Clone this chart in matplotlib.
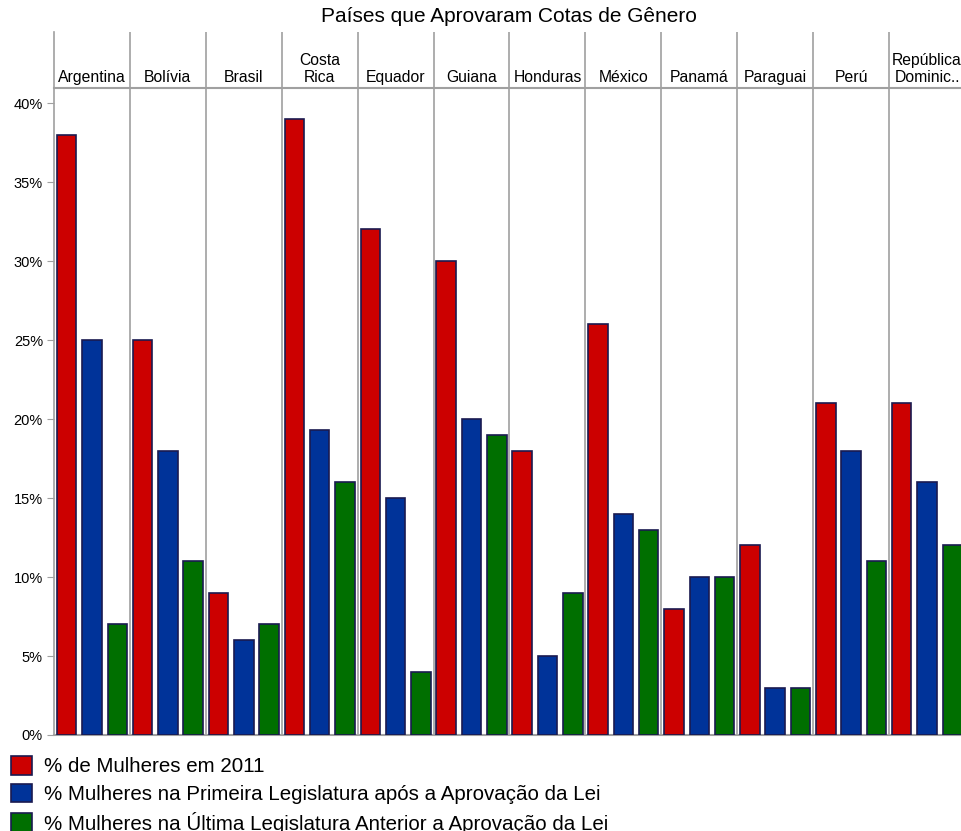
import matplotlib
matplotlib.use("Agg")
import matplotlib.pyplot as plt
import numpy as np

plt.rcParams['font.family'] = ['Liberation Sans', 'DejaVu Sans']

paises = ["Argentina", "Bolívia", "Brasil", "Costa\nRica", "Equador", "Guiana",
          "Honduras", "México", "Panamá", "Paraguai", "Perú", "República\nDominic.."]
mulheres_2011 = [38, 25, 9, 39, 32, 30, 18, 26, 8, 12, 21, 21]
primeira_leg = [25, 18, 6, 19.3, 15, 20, 5, 14, 10, 3, 18, 16]
ultima_leg = [7, 11, 7, 16, 4, 19, 9, 13, 10, 3, 11, 12]
series_nomes = ["% de Mulheres em 2011",
                "% Mulheres na Primeira Legislatura após a Aprovação da Lei",
                "% Mulheres na Última Legislatura Anterior a Aprovação da Lei"]
cores = ["#cc0000", "#003399", "#006f00"]
yticks = [0, 5, 10, 15, 20, 25, 30, 35, 40]

W, H = 962, 831
fig = plt.figure(figsize=(W / 100, H / 100), dpi=100)

left, right = 54, 965
top_hdr, top_plot, bottom = 32, 88, 735
ax = fig.add_axes([left / W, 1 - bottom / H, (right - left) / W, (bottom - top_plot) / H])
hdr = fig.add_axes([left / W, 1 - top_plot / H, (right - left) / W, (top_plot - top_hdr) / H])

n = len(paises)
base = np.arange(n) * 3
for j, (vals, cor, nome) in enumerate(zip([mulheres_2011, primeira_leg, ultima_leg], cores, series_nomes)):
    ax.bar(base + j, vals, width=0.77, color=cor, edgecolor="#1a1a50", linewidth=1.2,
           label=nome, zorder=3)

gray = "#a0a0a0"
for k in range(1, n):
    ax.axvline(k * 3 - 0.5, color=gray, lw=1.2, zorder=1)
    hdr.axvline(k * 3 - 0.5, color=gray, lw=1.2)

ax.set_xlim(-0.5, n * 3 - 0.5)
ax.set_ylim(0, 40.95)
ax.set_xticks([])
ax.set_yticks(yticks)
ax.set_yticklabels([f"{v}%" for v in yticks], fontsize=10.5)
ax.tick_params(axis='y', length=5, color=gray, pad=3)
for s in ["top", "right"]:
    ax.spines[s].set_visible(False)
ax.spines["left"].set_color(gray)
ax.spines["bottom"].set_color(gray)
ax.spines["left"].set_linewidth(1.2)
ax.spines["bottom"].set_linewidth(1.5)

hdr.set_xlim(-0.5, n * 3 - 0.5)
hdr.set_ylim(0, 1)
hdr.set_xticks([])
hdr.set_yticks([])
for s in ["top", "right"]:
    hdr.spines[s].set_visible(False)
hdr.spines["left"].set_color(gray)
hdr.spines["left"].set_linewidth(1.2)
hdr.spines["bottom"].set_color(gray)
hdr.spines["bottom"].set_linewidth(1.5)
for i, p in enumerate(paises):
    hdr.text(base[i] + 1, 0.05, p, ha="center", va="bottom", fontsize=11.3,
             linespacing=1.15)

fig.text(509 / W, 1 - 17 / H, "Países que Aprovaram Cotas de Gênero", ha="center",
         va="center", fontsize=15)

handles, labels = ax.get_legend_handles_labels()
fig.legend(handles, labels, loc="upper left", bbox_to_anchor=(0.003, 1 - 748 / H),
           frameon=False, fontsize=14.8, handlelength=1.0, handleheight=1.0,
           handletextpad=0.6, labelspacing=0.36, borderaxespad=0)

fig.savefig("out.png", dpi=100)
